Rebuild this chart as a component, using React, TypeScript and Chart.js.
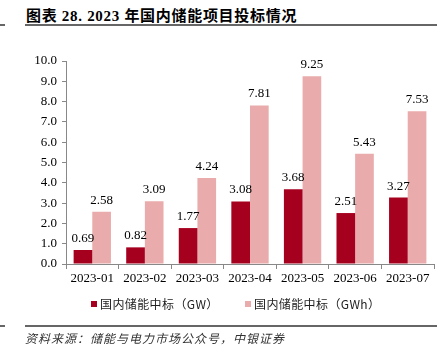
import React, { useEffect, useRef } from "react";
import { Chart, registerables } from "chart.js";

Chart.register(...registerables);

const categories = ["2023-01", "2023-02", "2023-03", "2023-04", "2023-05", "2023-06", "2023-07"];
const gwValues = [0.69, 0.82, 1.77, 3.08, 3.68, 2.51, 3.27];
const gwhValues = [2.58, 3.09, 4.24, 7.81, 9.25, 5.43, 7.53];
const seriesNames = ["国内储能中标（GW）", "国内储能中标（GWh）"];
const yTicks = { min: 0, max: 10, step: 1 };
const titleText = "图表 28. 2023 年国内储能项目投标情况";
const sourceText = "资料来源：储能与电力市场公众号，中银证券";

const DARK = "#A6001F";
const LIGHT = "#E9ABAB";
const SERIF = '"Liberation Serif", "Times New Roman", serif';
const CJK = '"Noto Sans CJK SC", sans-serif';

const valueLabels = {
  id: "valueLabels",
  afterDatasetsDraw(chart: any) {
    const ctx = chart.ctx;
    ctx.save();
    ctx.font = `13px ${SERIF}`;
    ctx.fillStyle = "#000";
    ctx.textAlign = "center";
    ctx.textBaseline = "bottom";
    chart.data.datasets.forEach((ds: any, di: number) => {
      const meta = chart.getDatasetMeta(di);
      meta.data.forEach((bar: any, i: number) => {
        ctx.fillText(Number(ds.data[i]).toFixed(2), bar.x, bar.y - 5);
      });
    });
    ctx.restore();
  },
};

export default function App() {
  const ref = useRef<HTMLCanvasElement>(null);

  useEffect(() => {
    if (!ref.current) return;
    const chart = new Chart(ref.current, {
      type: "bar",
      data: {
        labels: categories,
        datasets: [
          { label: seriesNames[0], data: gwValues, backgroundColor: DARK, categoryPercentage: 0.71, barPercentage: 1.0 },
          { label: seriesNames[1], data: gwhValues, backgroundColor: LIGHT, categoryPercentage: 0.71, barPercentage: 1.0 },
        ],
      },
      options: {
        responsive: false,
        animation: false,
        devicePixelRatio: 1,
        layout: { padding: { top: 26, left: 0, right: 13, bottom: 0 } },
        plugins: { legend: { display: false }, tooltip: { enabled: false }, title: { display: false } },
        scales: {
          x: {
            offset: true,
            grid: { display: true, drawOnChartArea: false, drawTicks: true, tickLength: 5, color: "#888", offset: true },
            border: { display: true, color: "#888", width: 1 },
            ticks: { font: { family: SERIF, size: 13 }, color: "#000", padding: 2, maxRotation: 0 },
            afterFit: (s: any) => { s.height = 36; },
          },
          y: {
            min: yTicks.min,
            max: yTicks.max,
            grid: { display: true, drawOnChartArea: false, drawTicks: true, tickLength: 4, color: "#888" },
            border: { display: true, color: "#888", width: 1 },
            ticks: {
              stepSize: yTicks.step,
              font: { family: SERIF, size: 13 },
              color: "#000",
              padding: 5,
              callback: (v: any) => Number(v).toFixed(1),
            },
            afterFit: (s: any) => { s.width = 66; },
          },
        },
      },
      plugins: [valueLabels],
    });
    return () => chart.destroy();
  }, []);

  const legendItem = (left: number, color: string, text: string) => (
    <div style={{ position: "absolute", left, top: 295, height: 18, display: "flex", alignItems: "center" }}>
      <div style={{ width: 6, height: 6, background: color, marginRight: 3 }} />
      <span style={{ font: `12px ${CJK}`, color: "#222", lineHeight: "18px", letterSpacing: "0.4px" }}>{text}</span>
    </div>
  );

  return (
    <div style={{ position: "absolute", left: 0, top: 0, width: 447, height: 361, background: "#fff", overflow: "hidden" }}>
      <div style={{ position: "absolute", left: 26, top: 4, height: 22, lineHeight: "22px", font: `bold 15px ${SERIF}`, fontFamily: `${SERIF.split(",")[0]}, ${CJK}`, color: "#000", letterSpacing: "0.7px", whiteSpace: "nowrap" }}>
        {titleText}
      </div>
      <div style={{ position: "absolute", left: 0, top: 24, width: 5, height: 2, background: "#666" }} />
      <div style={{ position: "absolute", left: 25, top: 24, width: 412, height: 2, background: "#666" }} />
      <canvas ref={ref} width={447} height={265} style={{ position: "absolute", left: 0, top: 35, width: 447, height: 265 }} />
      {legendItem(91, DARK, seriesNames[0])}
      {legendItem(245, LIGHT, seriesNames[1])}
      <div style={{ position: "absolute", left: 0, top: 325, width: 5, height: 2, background: "#666" }} />
      <div style={{ position: "absolute", left: 25, top: 325, width: 412, height: 2, background: "#666" }} />
      <div style={{ position: "absolute", left: 25, top: 329, height: 16, lineHeight: "16px", font: `italic 12px ${CJK}`, color: "#333", letterSpacing: "1px", whiteSpace: "nowrap" }}>
        {sourceText}
      </div>
    </div>
  );
}
